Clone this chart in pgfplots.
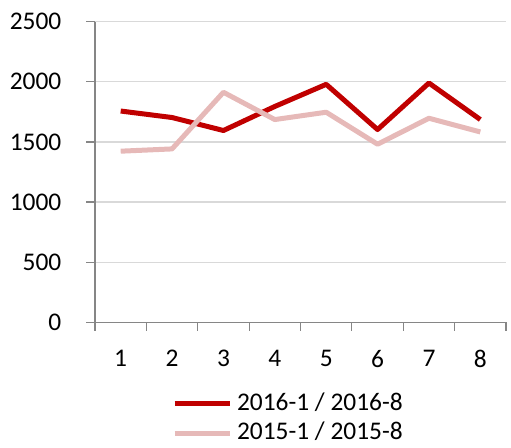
\documentclass[border=0pt]{standalone}
\usepackage{fontspec}
\setmainfont{Carlito}
\usepackage{pgfplots}
\pgfplotsset{compat=1.18}
\definecolor{darkred}{HTML}{C00000}
\definecolor{lightpink}{HTML}{E6B9B8}
\definecolor{axisgray}{HTML}{868686}
\definecolor{gridgray}{HTML}{D9D9D9}
\begin{document}
\fontsize{25.5}{30}\selectfont
\begin{tikzpicture}[x=1bp,y=1bp]
\useasboundingbox (-95,-125.7) rectangle (416,322.3);
\begin{axis}[
  at={(0,0)}, anchor=south west,
  scale only axis, width=411bp, height=300.6bp,
  xmin=0.5, xmax=8.5, ymin=0, ymax=2500,
  axis x line*=bottom, axis y line*=left,
  axis line style={-, draw=axisgray, line width=1.3bp},
  /pgf/number format/assume math mode=true,
  /pgf/number format/set thousands separator={},
  ytick={0,500,1000,1500,2000,2500},
  ymajorgrids, grid style={draw=gridgray, line width=1.2bp},
  tick align=outside,
  major tick length=8.5bp,
  tick style={draw=axisgray, line width=1.2bp},
  xtick={0.5,1.5,2.5,3.5,4.5,5.5,6.5,7.5,8.5},
  xticklabels={},
  extra x ticks={1,2,3,4,5,6,7,8},
  extra x tick labels={1,2,3,4,5,6,7,8},
  extra x tick style={major tick length=0pt, grid=none},
  xticklabel style={anchor=north, inner sep=0pt, yshift=-27.5bp},
  yticklabel style={anchor=east, inner sep=0pt, xshift=-25bp},
  tick label style={font=\fontsize{25.5}{30}\selectfont},
  legend style={at={(0.187,-0.234)}, anchor=north west, draw=none, fill=none,
    inner sep=0pt, nodes={inner sep=0pt}, row sep=8bp, column sep=5bp,
    font=\fontsize{25.5}{30}\selectfont},
  legend cell align=left,
  legend image code/.code={\draw[#1] (0bp,0bp) -- (55bp,0bp);},
  line join=round,
]
\addplot[darkred, line width=5bp] coordinates {
  (1,1757) (2,1703) (3,1595) (4,1795) (5,1979) (6,1603) (7,1990) (8,1686)};
\addlegendentry{2016-1 / 2016-8}
\addplot[lightpink, line width=5bp] coordinates {
  (1,1423) (2,1442) (3,1913) (4,1686) (5,1747) (6,1481) (7,1697) (8,1583)};
\addlegendentry{2015-1 / 2015-8}
\end{axis}
\end{tikzpicture}
\end{document}
